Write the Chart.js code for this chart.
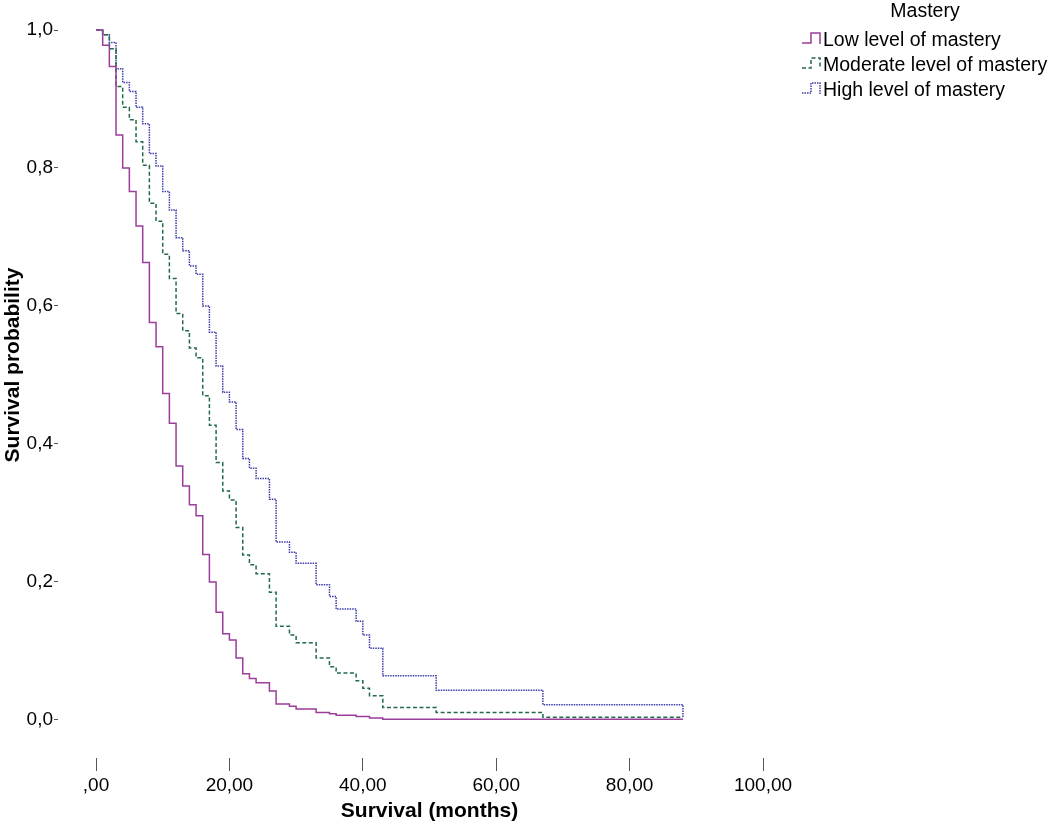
<!DOCTYPE html>
<html>
<head>
<meta charset="utf-8">
<title>Survival by level of mastery</title>
<script src="https://cdn.jsdelivr.net/npm/chart.js@4.4.1/dist/chart.umd.min.js"></script>
<style>
  body { margin: 0; background: #fff; }
  #wrap { width: 1050px; height: 828px; }
</style>
</head>
<body>
<div id="wrap"><canvas id="chartSurvival" width="1050" height="828"></canvas></div>
<script>
// --- DATA ---
const lowTimes = [0, 1, 2, 3, 4, 5, 6, 7, 8, 9, 10, 11, 12, 13, 14, 15, 16, 17, 18, 19, 20, 21, 22, 23, 24, 26, 27, 29, 30, 33, 35, 36, 39, 41, 43, 88];
const lowSurv  = [1.0, 0.978, 0.947, 0.848, 0.800, 0.766, 0.716, 0.663, 0.576, 0.541, 0.473, 0.430, 0.368, 0.339, 0.312, 0.296, 0.240, 0.200, 0.156, 0.125, 0.116, 0.090, 0.067, 0.060, 0.054, 0.042, 0.023, 0.020, 0.016, 0.011, 0.009, 0.007, 0.005, 0.003, 0.001, 0.001];

const modTimes = [0, 1, 2, 3, 4, 5, 6, 7, 8, 9, 10, 11, 12, 13, 14, 15, 16, 17, 18, 19, 20, 21, 22, 23, 24, 26, 27, 29, 30, 33, 35, 36, 39, 40, 41, 43, 51, 67, 88];
const modSurv  = [1.0, 0.993, 0.973, 0.918, 0.888, 0.870, 0.838, 0.804, 0.749, 0.723, 0.675, 0.640, 0.589, 0.564, 0.539, 0.525, 0.470, 0.427, 0.373, 0.332, 0.319, 0.279, 0.239, 0.225, 0.212, 0.185, 0.136, 0.123, 0.112, 0.090, 0.077, 0.068, 0.057, 0.046, 0.035, 0.018, 0.011, 0.004, 0.004];

const highTimes = [0, 1, 2, 3, 4, 5, 6, 7, 8, 9, 10, 11, 12, 13, 14, 15, 16, 17, 18, 19, 20, 21, 22, 23, 24, 26, 27, 29, 30, 33, 35, 36, 39, 40, 41, 43, 51, 67, 88];
const highSurv  = [1.0, 0.993, 0.982, 0.944, 0.924, 0.911, 0.888, 0.864, 0.821, 0.803, 0.766, 0.739, 0.699, 0.680, 0.658, 0.646, 0.600, 0.562, 0.513, 0.475, 0.461, 0.421, 0.379, 0.365, 0.350, 0.320, 0.258, 0.243, 0.227, 0.196, 0.179, 0.161, 0.143, 0.123, 0.104, 0.064, 0.043, 0.022, 0.003];

const seriesNames = ['Low level of mastery', 'Moderate level of mastery', 'High level of mastery'];
const legendTitle = 'Mastery';

const xTicks = [0, 20, 40, 60, 80, 100];
const xTickLabels = [',00', '20,00', '40,00', '60,00', '80,00', '100,00'];
const yTicks = [0, 0.2, 0.4, 0.6, 0.8, 1.0];
const yTickLabels = ['0,0', '0,2', '0,4', '0,6', '0,8', '1,0'];

const xTitle = 'Survival (months)';
const yTitle = 'Survival probability';

const FONT = '"Liberation Sans", Arial, sans-serif';

function toPoints(times, surv) {
    return times.map((t, i) => ({ x: t, y: surv[i] }));
}

// ================= axis titles + legend drawn on the canvas =================
const extraTexts = {
    id: 'extraTexts',
    afterDraw(chart) {
        const ctx = chart.ctx;
        const xs = chart.scales.x;
        const ys = chart.scales.y;

        ctx.save();
        ctx.fillStyle = '#000';
        ctx.font = 'bold 21px ' + FONT;
        ctx.textAlign = 'center';
        ctx.textBaseline = 'middle';
        ctx.fillText(xTitle, xs.getPixelForValue(50), chart.chartArea.bottom + 53);

        ctx.translate(13, (ys.getPixelForValue(1) + ys.getPixelForValue(0)) / 2 - 10);
        ctx.rotate(-Math.PI / 2);
        ctx.fillText(yTitle, 0, 0);
        ctx.restore();

        // legend, top right
        ctx.save();
        ctx.fillStyle = '#000';
        ctx.font = '19.5px ' + FONT;
        ctx.textBaseline = 'middle';
        ctx.textAlign = 'center';
        ctx.fillText(legendTitle, 925, 12);
        ctx.textAlign = 'left';
        chart.data.datasets.forEach((ds, i) => {
            const y = 41 + i * 25;
            ctx.strokeStyle = ds.borderColor;
            ctx.lineWidth = ds.borderWidth;
            ctx.setLineDash(ds.borderDash || []);
            ctx.beginPath();
            ctx.moveTo(802, y + 2);
            ctx.lineTo(811, y + 2);
            ctx.lineTo(811, y - 8);
            ctx.lineTo(820, y - 8);
            ctx.lineTo(820, y + 3);
            ctx.stroke();
            ctx.setLineDash([]);
            ctx.fillText(ds.label, 823, y);
        });
        ctx.restore();
    }
};

// ================= chart =================
const ctxSurv = document.getElementById('chartSurvival').getContext('2d');

new Chart(ctxSurv, {
    type: 'line',
    data: {
        datasets: [{
            label: seriesNames[0],
            data: toPoints(lowTimes, lowSurv),
            borderColor: '#9b3d9b',
            borderWidth: 1.5,
            stepped: true
        }, {
            label: seriesNames[1],
            data: toPoints(modTimes, modSurv),
            borderColor: '#226a4a',
            borderWidth: 1.5,
            borderDash: [4, 2.5],
            stepped: true
        }, {
            label: seriesNames[2],
            data: toPoints(highTimes, highSurv),
            borderColor: '#3d3dac',
            borderWidth: 1.5,
            borderDash: [1.5, 1],
            stepped: true
        }]
    },
    options: {
        responsive: false,
        animation: false,
        layout: { padding: { left: 0, right: 287, top: 30, bottom: 0 } },
        elements: { point: { radius: 0 }, line: { fill: false } },
        datasets: { line: { clip: false } },
        plugins: { legend: { display: false }, tooltip: { enabled: false } },
        scales: {
            x: {
                type: 'linear',
                min: -5.7,
                max: 100,
                afterBuildTicks: axis => { axis.ticks = xTicks.map(v => ({ value: v })); },
                afterFit: axis => { axis.height = 70; },
                border: { display: false },
                grid: { display: true, drawOnChartArea: false, drawTicks: true, tickLength: 13, color: '#555', lineWidth: 1 },
                ticks: {
                    color: '#000',
                    padding: 3,
                    maxRotation: 0,
                    font: { family: FONT, size: 19 },
                    callback: v => xTickLabels[xTicks.indexOf(v)]
                }
            },
            y: {
                type: 'linear',
                min: -0.0551,
                max: 1.0,
                afterBuildTicks: axis => { axis.ticks = yTicks.map(v => ({ value: v })); },
                afterFit: axis => { axis.width = 58; },
                border: { display: false },
                grid: { display: true, drawOnChartArea: false, drawTicks: true, tickLength: 4, color: '#555', lineWidth: 1 },
                ticks: {
                    color: '#000',
                    padding: 1,
                    font: { family: FONT, size: 19 },
                    callback: v => yTickLabels[yTicks.findIndex(t => Math.abs(t - v) < 1e-9)]
                }
            }
        }
    },
    plugins: [extraTexts]
});
</script>
</body>
</html>
